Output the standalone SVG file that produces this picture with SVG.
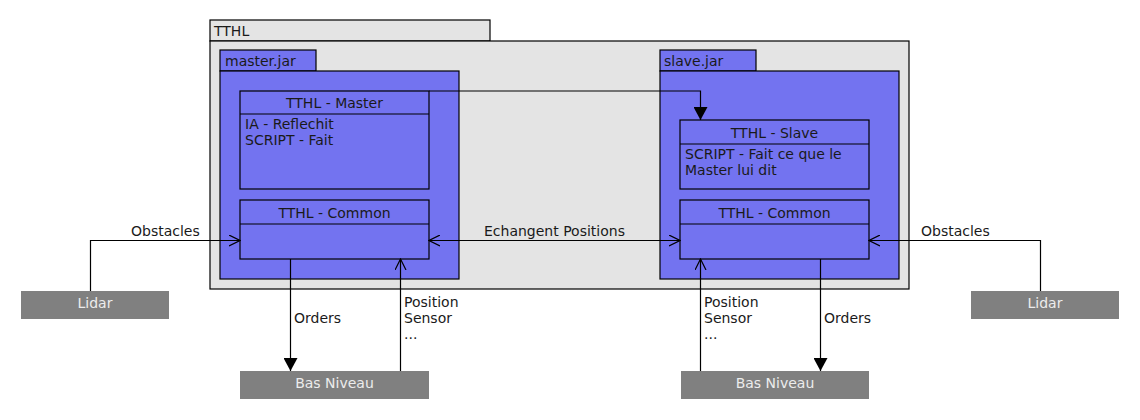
<svg xmlns="http://www.w3.org/2000/svg" width="1140" height="420" viewBox="0 0 1140 420">
<style>
text{font-family:"DejaVu Sans","Liberation Sans",sans-serif;font-size:14px;fill:#1a1a1a}
.pkg{fill:#e4e4e4;stroke:#000;stroke-width:1.2}
.jar{fill:#7373f0;stroke:#000;stroke-width:1.2}
.cls{fill:#7373f0;stroke:#000;stroke-width:1.2}
.ext{fill:#808080}
.ext-t{fill:#ececec;text-anchor:middle}
.c{text-anchor:middle}
.ln{fill:none;stroke:#000;stroke-width:1.2}
</style>
<defs>
<marker id="open" viewBox="0 0 12 12" refX="11" refY="6" markerWidth="12" markerHeight="12" markerUnits="userSpaceOnUse" orient="auto-start-reverse">
<path d="M0,0.5 L11,6 L0,11.5" fill="none" stroke="#000" stroke-width="1.2"/>
</marker>
<marker id="fill" viewBox="0 0 14 14" refX="13" refY="7" markerWidth="14" markerHeight="14" markerUnits="userSpaceOnUse" orient="auto">
<path d="M0,0 L13,7 L0,14 Z" fill="#000"/>
</marker>
</defs>
<g id="tthl">
<rect class="pkg" x="210" y="20" width="280" height="21"/>
<rect class="pkg" x="210" y="41" width="699" height="248"/>
<text x="214" y="36">TTHL</text>
</g>
<g id="master-jar">
<rect class="jar" x="220" y="50" width="96" height="21"/>
<rect class="jar" x="220" y="71" width="239" height="208"/>
<text x="225" y="66">master.jar</text>
</g>
<g id="slave-jar">
<rect class="jar" x="660" y="50" width="96" height="21"/>
<rect class="jar" x="660" y="71" width="239" height="208"/>
<text x="664" y="66">slave.jar</text>
</g>
<g id="tthl-master">
<rect class="cls" x="240" y="91" width="189" height="98"/>
<line class="ln" x1="240" y1="114" x2="429" y2="114"/>
<text class="c" x="334.5" y="108">TTHL - Master</text>
<text x="245" y="129">IA - Reflechit</text>
<text x="245" y="145">SCRIPT - Fait</text>
</g>
<g id="tthl-slave">
<rect class="cls" x="680" y="120" width="189" height="69"/>
<line class="ln" x1="680" y1="144" x2="869" y2="144"/>
<text class="c" x="774.5" y="138">TTHL - Slave</text>
<text x="685" y="159">SCRIPT - Fait ce que le</text>
<text x="685" y="175">Master lui dit</text>
</g>
<g id="common-left">
<rect class="cls" x="240" y="200" width="189" height="59"/>
<line class="ln" x1="240" y1="224" x2="429" y2="224"/>
<text class="c" x="334.5" y="218">TTHL - Common</text>
</g>
<g id="common-right">
<rect class="cls" x="680" y="200" width="189" height="59"/>
<line class="ln" x1="680" y1="224" x2="869" y2="224"/>
<text class="c" x="774.5" y="218">TTHL - Common</text>
</g>
<g id="lidar-left">
<rect class="ext" x="21" y="291" width="148" height="28"/>
<text class="ext-t" x="95" y="308">Lidar</text>
</g>
<g id="lidar-right">
<rect class="ext" x="971" y="291" width="148" height="28"/>
<text class="ext-t" x="1045" y="308">Lidar</text>
</g>
<g id="bas-niveau-left">
<rect class="ext" x="240" y="371" width="189" height="28"/>
<text class="ext-t" x="334.5" y="388">Bas Niveau</text>
</g>
<g id="bas-niveau-right">
<rect class="ext" x="681" y="371" width="188" height="28"/>
<text class="ext-t" x="775" y="388">Bas Niveau</text>
</g>
<g id="connectors">
<path class="ln" d="M429,91 H700.5 V120" marker-end="url(#fill)"/>
<path class="ln" d="M90.5,291 V240.5 H240" marker-end="url(#open)"/>
<path class="ln" d="M1040.5,291 V240.5 H869" marker-end="url(#open)"/>
<path class="ln" d="M429,240.5 H680" marker-start="url(#open)" marker-end="url(#open)"/>
<path class="ln" d="M290.5,259 V371" marker-end="url(#fill)"/>
<path class="ln" d="M400.5,371 V259" marker-end="url(#open)"/>
<path class="ln" d="M700.5,371 V259" marker-end="url(#open)"/>
<path class="ln" d="M820.5,259 V371" marker-end="url(#fill)"/>
<text x="131" y="236">Obstacles</text>
<text x="921" y="236">Obstacles</text>
<text x="484" y="236">Echangent Positions</text>
<text x="294" y="323">Orders</text>
<text x="824" y="323">Orders</text>
<text x="404" y="307">Position</text>
<text x="404" y="323">Sensor</text>
<text x="404" y="339">...</text>
<text x="704" y="307">Position</text>
<text x="704" y="323">Sensor</text>
<text x="704" y="339">...</text>
</g>
</svg>
